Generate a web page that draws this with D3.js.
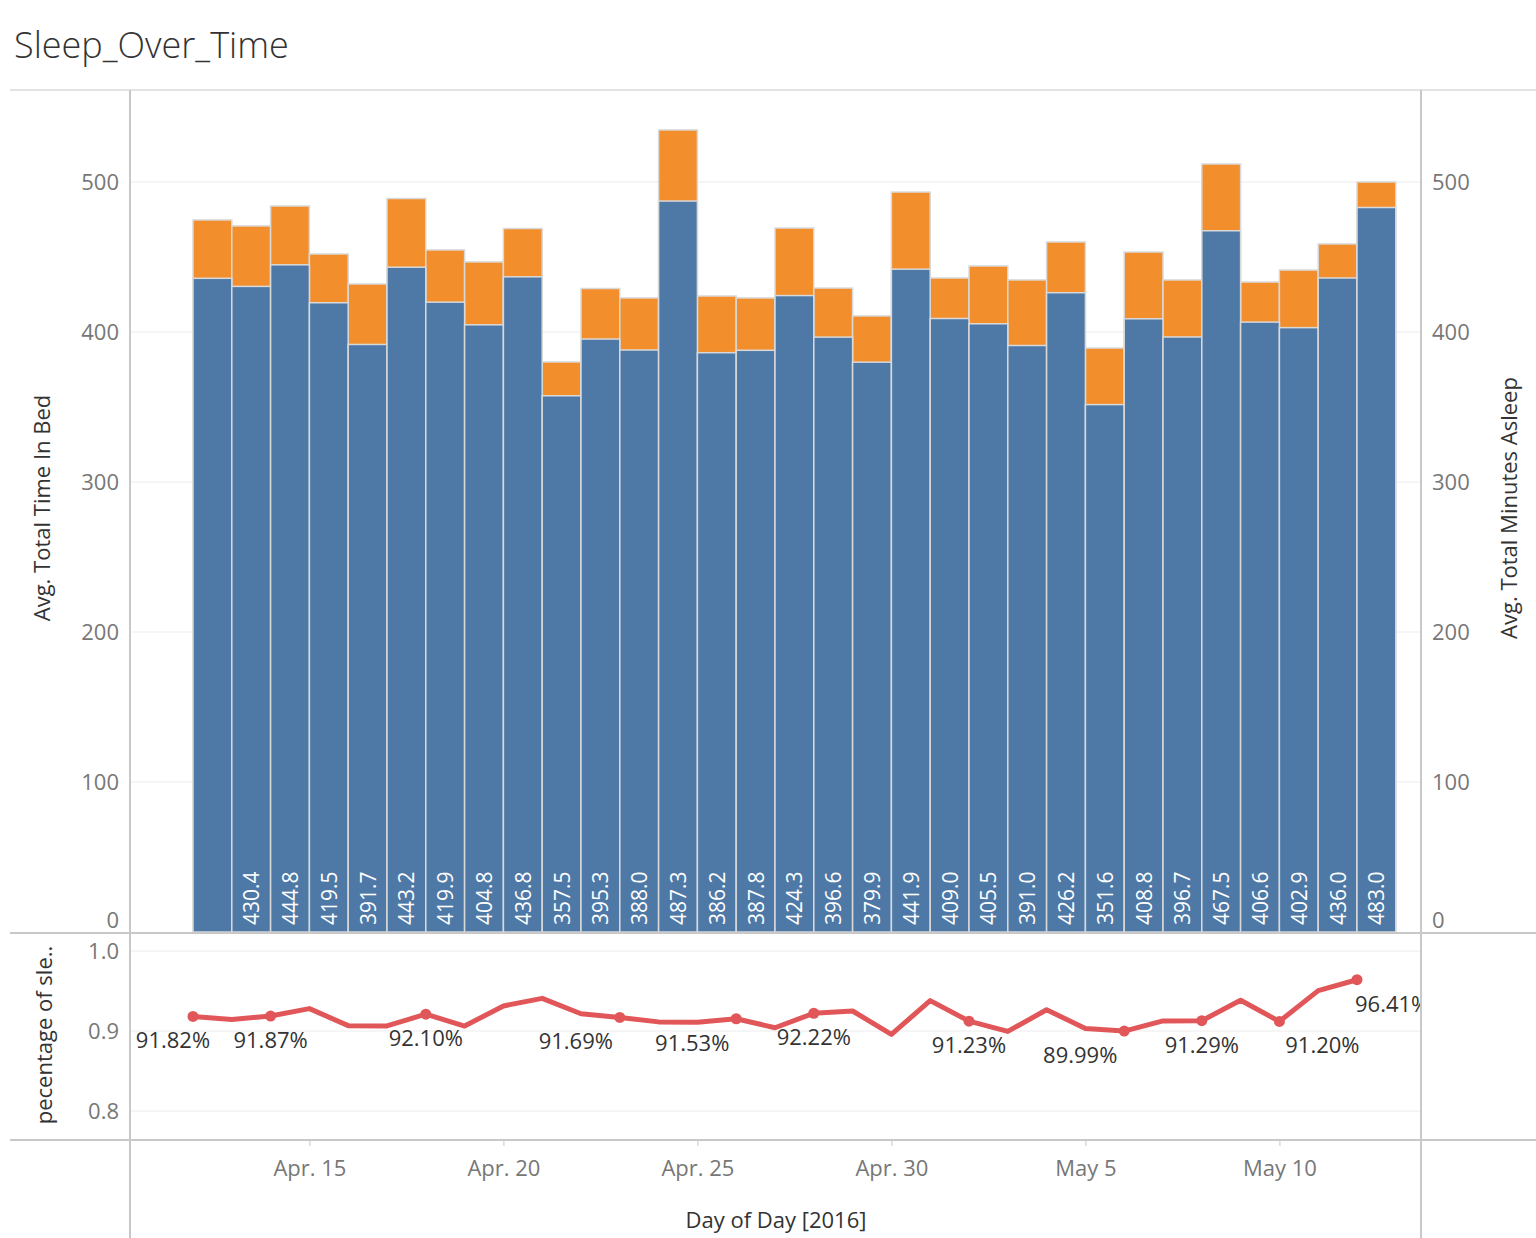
<!DOCTYPE html>
<html><head><meta charset="utf-8">
<script src="https://cdn.jsdelivr.net/npm/d3@7"></script>
<style>body{margin:0;background:#fff;font-family:"Open Sans",sans-serif}</style>
</head><body>
<script>
const w = 1536, h = 1238;
const days = d3.range(31).map(i => new Date(2016, 3, 12 + i));
const timeInBed = [474.7,470.7,484,452,432,489,454.7,446.7,469,380,429,422.7,534.7,424,422.7,469.3,429.3,410.7,493.3,436,444,434.7,460,389.3,453.3,434.7,512,433.3,441.3,458.7,500];
const minutesAsleep = [435.8,430.4,444.8,419.5,391.7,443.2,419.9,404.8,436.8,357.5,395.3,388.0,487.3,386.2,387.8,424.3,396.6,379.9,441.9,409.0,405.5,391.0,426.2,351.6,408.8,396.7,467.5,406.6,402.9,436.0,483.0];
const pctAsleep = [.9182,.9144,.9187,.928,.9067,.9063,.9210,.9062,.9313,.9408,.9215,.9169,.9114,.9108,.9153,.9041,.9222,.925,.8958,.938,.9123,.8995,.9265,.9032,.8999,.9126,.9129,.9384,.9120,.9505,.9641];
const pctLabelIdx = [0,2,6,11,14,16,20,24,26,28,30];
const pctLabelDx = {0:-20,11:-44,14:-44,24:-44,28:43};

const blue = "#4e79a7", orange = "#f28e2b", red = "#e15759", grid = "#ececec", tickC = "#777", frame = "#c8c8c8";
const svg = d3.select("body").append("svg").attr("width", w).attr("height", h);

svg.append("text").attr("x", 14).attr("y", 58).attr("font-size", 36).attr("font-weight", 300)
   .attr("fill", "#333").text("Sleep_Over_Time");

const x = d3.scaleTime().domain([days[0], new Date(2016, 4, 13)]).range([193, 193 + 31 * 38.8]);
const y = d3.scaleLinear().domain([0, 500]).range([932, 182]);
const yp = d3.scaleLinear().domain([0.8, 1.0]).range([1111, 951]);

// gridlines
[100,200,300,400,500].forEach(v => svg.append("line").attr("x1",130).attr("x2",1421)
  .attr("y1",y(v)).attr("y2",y(v)).attr("stroke",grid));
[0.8,0.9,1.0].forEach(v => svg.append("line").attr("x1",130).attr("x2",1421)
  .attr("y1",yp(v)).attr("y2",yp(v)).attr("stroke",grid));

// bars
const bw = d => x(d3.timeDay.offset(d, 1)) - x(d);
svg.selectAll("rect.bed").data(days).enter().append("rect")
  .attr("x", d => x(d)).attr("width", bw)
  .attr("y", (d,i) => y(timeInBed[i])).attr("height", (d,i) => y(0) - y(timeInBed[i]))
  .attr("fill", orange).attr("stroke", "#d9d9d9").attr("stroke-width", 1.5);
svg.selectAll("rect.asleep").data(days).enter().append("rect")
  .attr("x", d => x(d)).attr("width", bw)
  .attr("y", (d,i) => y(minutesAsleep[i])).attr("height", (d,i) => y(0) - y(minutesAsleep[i]))
  .attr("fill", blue).attr("stroke", "#d9d9d9").attr("stroke-width", 1.5);
svg.selectAll("text.bl").data(days.slice(1)).enter().append("text")
  .attr("transform", d => `translate(${x(d) + bw(d)/2 + 8},925) rotate(-90)`)
  .attr("fill", "#fff").attr("font-size", 21).text((d,i) => minutesAsleep[i+1].toFixed(1));

// frame lines
svg.append("line").attr("x1",10).attr("x2",1536).attr("y1",90).attr("y2",90).attr("stroke",frame);
svg.append("line").attr("x1",10).attr("x2",1536).attr("y1",933).attr("y2",933).attr("stroke",frame).attr("stroke-width",2);
svg.append("line").attr("x1",10).attr("x2",1536).attr("y1",1140).attr("y2",1140).attr("stroke",frame).attr("stroke-width",2);
svg.append("line").attr("x1",130).attr("x2",130).attr("y1",90).attr("y2",1238).attr("stroke",frame).attr("stroke-width",2);
svg.append("line").attr("x1",1421).attr("x2",1421).attr("y1",90).attr("y2",1238).attr("stroke",frame).attr("stroke-width",2);

// y axes
const styleAxis = g => { g.select(".domain").remove(); g.selectAll("line").remove();
  g.selectAll("text").attr("fill", tickC).attr("font-size", 22).attr("font-family", "Open Sans"); };
svg.append("g").attr("transform","translate(128,0)")
  .call(d3.axisLeft(y).tickValues([0,100,200,300,400,500])).call(styleAxis)
  .selectAll("text").attr("dy", (d) => d === 0 ? "-0.2em" : "0.32em");
svg.append("g").attr("transform","translate(1423,0)")
  .call(d3.axisRight(y).tickValues([0,100,200,300,400,500])).call(styleAxis)
  .selectAll("text").attr("dy", (d) => d === 0 ? "-0.2em" : "0.32em");
svg.append("g").attr("transform","translate(128,0)")
  .call(d3.axisLeft(yp).tickValues([0.8,0.9,1.0]).tickFormat(d3.format(".1f"))).call(styleAxis);

// x axis
const xa = svg.append("g").attr("transform","translate(0,1140)")
  .call(d3.axisBottom(x).tickValues([15,20,25,30].map(d => new Date(2016,3,d)).concat([new Date(2016,4,5), new Date(2016,4,10)]))
  .tickFormat(d => d3.timeFormat(d.getMonth() === 3 ? "Apr. %-d" : "May %-d")(d)).tickSize(6).tickPadding(14));
xa.select(".domain").remove();
xa.selectAll("line").attr("stroke", frame);
xa.selectAll("text").attr("fill", tickC).attr("font-size", 22).attr("font-family", "Open Sans");

// line
svg.append("path").datum(days).attr("fill","none").attr("stroke",red).attr("stroke-width",5)
  .attr("stroke-linejoin","round")
  .attr("d", d3.line().x(d => x(d)).y((d,i) => yp(pctAsleep[i])));
const clip = svg.append("clipPath").attr("id","c").append("rect").attr("x",130).attr("y",933).attr("width",1290).attr("height",207);
const lg = svg.append("g").attr("clip-path","url(#c)");
pctLabelIdx.forEach(i => {
  lg.append("circle").attr("cx", x(days[i])).attr("cy", yp(pctAsleep[i])).attr("r", 5.5).attr("fill", red);
  const last = i === 30;
  lg.append("text").attr("x", x(days[i]) + (last ? -2 : (pctLabelDx[i] || 0)))
    .attr("y", yp(pctAsleep[i]) + (last ? 32 : 32))
    .attr("text-anchor", last ? "start" : "middle").attr("font-size", 22).attr("fill", "#333")
    .text(d3.format(".2%")(pctAsleep[i]));
});

// titles
svg.append("text").attr("transform","translate(50,508) rotate(-90)").attr("text-anchor","middle")
  .attr("font-size",22).attr("fill","#333").text("Avg. Total Time In Bed");
svg.append("text").attr("transform","translate(1517,508) rotate(-90)").attr("text-anchor","middle")
  .attr("font-size",22).attr("fill","#333").text("Avg. Total Minutes Asleep");
svg.append("text").attr("transform","translate(52,1035) rotate(-90)").attr("text-anchor","middle")
  .attr("font-size",22).attr("fill","#333").text("pecentage of sle..");
svg.append("text").attr("x",776).attr("y",1228).attr("text-anchor","middle")
  .attr("font-size",22).attr("fill","#333").text("Day of Day [2016]");
</script>
</body></html>
